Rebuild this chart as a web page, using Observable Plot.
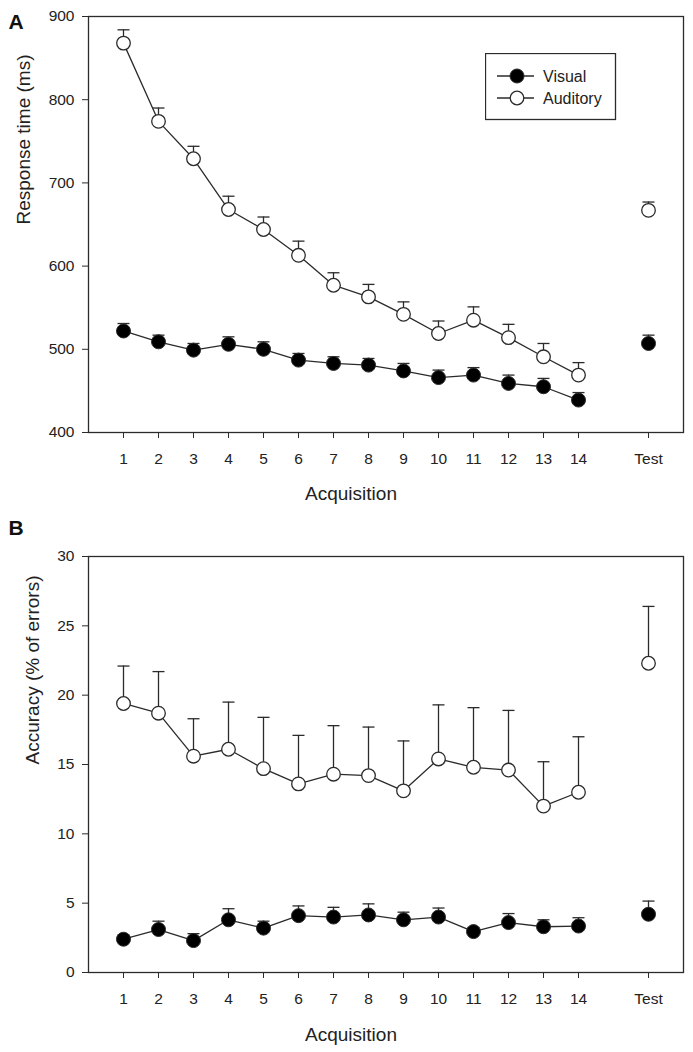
<!DOCTYPE html>
<html><head><meta charset="utf-8">
<script src="https://cdn.jsdelivr.net/npm/d3@7"></script>
<script src="https://cdn.jsdelivr.net/npm/@observablehq/plot@0.6"></script>
<style>
body{margin:0;background:#fff;font-family:"Liberation Sans",Arial,sans-serif;}
#wrap{position:relative;width:693px;height:1052px;}
#wrap > svg{display:block}
#legend{position:absolute;left:485px;top:53px;}
</style></head><body><div id="wrap"></div>
<script>
// ---- data ----
const trials = [1,2,3,4,5,6,7,8,9,10,11,12,13,14];
const sessionLabels = [...trials.map(String), "Test"];
const conditions = ["Visual", "Auditory"];

const rtVisual     = [522,509,499,506,500,487,483,481,474,466,469,459,455,439,507];
const rtVisualSE   = [9,8,8,9,9,8,8,8,9,9,9,10,10,9,10];
const rtAuditory   = [868,774,729,668,644,613,577,563,542,519,535,514,491,469,667];
const rtAuditorySE = [16,16,15,16,15,17,15,15,15,15,16,16,16,15,10];

const errVisual     = [2.4,3.1,2.3,3.8,3.2,4.1,4.0,4.15,3.8,4.0,2.95,3.6,3.3,3.35,4.2];
const errVisualSE   = [0.3,0.6,0.5,0.8,0.5,0.7,0.7,0.8,0.55,0.65,0.3,0.65,0.5,0.6,0.95];
const errAuditory   = [19.4,18.7,15.6,16.1,14.7,13.6,14.3,14.2,13.1,15.4,14.8,14.6,12.0,13.0,22.3];
const errAuditorySE = [2.7,3.0,2.7,3.4,3.7,3.5,3.5,3.5,3.6,3.9,4.3,4.3,3.2,4.0,4.1];

const rtTicks  = [400,500,600,700,800,900];
const errTicks = [0,5,10,15,20,25,30];

// ---- derived ----
const positions = [...trials, trials.length + 2]; // Test sits one empty slot after the last trial
const xDomain = [0, positions[positions.length - 1] + 1];
const ink = "#2b2b2b";
const font = "'Liberation Sans', Arial, sans-serif";

function rows(visual, visualSE, auditory, auditorySE) {
  const out = [];
  [[conditions[0], visual, visualSE], [conditions[1], auditory, auditorySE]].forEach(([c, m, s]) => {
    m.forEach((v, i) => out.push({condition: c, pos: positions[i], label: sessionLabels[i],
      mean: v, upper: v + s[i], test: sessionLabels[i] === "Test"}));
  });
  return out;
}

const capSymbol = {draw(ctx) { ctx.moveTo(-6, 0); ctx.lineTo(6, 0); }};

function panel({data, yDomain, yTicks, height, marginTop, marginBottom, yLabel, yLabelDx, letter, letterDy, xLabelDy}) {
  const acq = data.filter(d => !d.test);
  const svg = Plot.plot({
    width: 693, height, marginLeft: 88, marginRight: 10, marginTop, marginBottom,
    style: {fontFamily: font, fontSize: "15px", color: "#222", background: "white", overflow: "visible"},
    x: {domain: xDomain},
    y: {domain: yDomain},
    marks: [
      Plot.frame({stroke: ink, strokeWidth: 1.3}),
      Plot.axisX({ticks: positions, tickFormat: d => sessionLabels[positions.indexOf(d)],
        tickSize: 6, tickPadding: 14, label: null, stroke: ink, fill: "#222"}),
      Plot.axisY({ticks: yTicks, tickSize: 6, tickPadding: 8, label: null, stroke: ink, fill: "#222"}),
      Plot.line(acq, {x: "pos", y: "mean", z: "condition", stroke: ink, strokeWidth: 1.3}),
      Plot.ruleX(data, {x: "pos", y1: "mean", y2: "upper", stroke: ink, strokeWidth: 1.3}),
      Plot.dot(data, {x: "pos", y: "upper", symbol: capSymbol, stroke: ink, strokeWidth: 1.3, fill: "none"}),
      Plot.dot(data.filter(d => d.condition === conditions[1]), {x: "pos", y: "mean", r: 6.8, fill: "white", stroke: ink, strokeWidth: 1.3}),
      Plot.dot(data.filter(d => d.condition === conditions[0]), {x: "pos", y: "mean", r: 7, fill: "#000", stroke: ink, strokeWidth: 1}),
      Plot.text([yLabel], {text: d => d, frameAnchor: "left", rotate: -90, dx: yLabelDx, fontSize: 19, lineAnchor: "middle", fill: "#222"}),
      Plot.text(["Acquisition"], {text: d => d, x: () => d3.mean(trials), frameAnchor: "bottom", dy: xLabelDy, fontSize: 19, lineAnchor: "middle", fill: "#222"}),
      Plot.text([letter], {text: d => d, frameAnchor: "top-left", dx: -80, dy: letterDy, textAnchor: "start", lineAnchor: "middle", fontSize: 21, fontWeight: "bold", fill: "#111"})
    ]
  });
  // enlarge axis tick labels (all texts not produced by the text marks above)
  svg.querySelectorAll("text").forEach(t => {
    const g = t.closest("g[aria-label]");
    if (!g || g.getAttribute("aria-label") !== "text") t.style.fontSize = "15.5px";
  });
  return svg;
}

const wrap = document.getElementById("wrap");
wrap.appendChild(panel({
  data: rows(rtVisual, rtVisualSE, rtAuditory, rtAuditorySE),
  yDomain: [rtTicks[0], rtTicks[rtTicks.length - 1]], yTicks: rtTicks,
  height: 510, marginTop: 16, marginBottom: 78,
  yLabel: "Response time (ms)", yLabelDx: -65, letter: "A", letterDy: 6, xLabelDy: 61
}));
wrap.appendChild(panel({
  data: rows(errVisual, errVisualSE, errAuditory, errAuditorySE),
  yDomain: [errTicks[0], errTicks[errTicks.length - 1]], yTicks: errTicks,
  height: 542, marginTop: 46, marginBottom: 80,
  yLabel: "Accuracy (% of errors)", yLabelDx: -56, letter: "B", letterDy: -28, xLabelDy: 62
}));

// legend for panel A
const lg = document.createElement("div");
lg.id = "legend";
lg.innerHTML = `<svg width="132" height="68" xmlns="http://www.w3.org/2000/svg" style="font-family:${font}">
  <rect x="0.5" y="0.5" width="130" height="66" fill="white" stroke="${ink}" stroke-width="1.3"/>
  <line x1="12" x2="49" y1="23" y2="23" stroke="${ink}" stroke-width="1.3"/>
  <circle cx="32" cy="23" r="7" fill="#000" stroke="${ink}"/>
  <text x="58" y="28.5" font-size="16" fill="#222">${conditions[0]}</text>
  <line x1="12" x2="49" y1="45" y2="45" stroke="${ink}" stroke-width="1.3"/>
  <circle cx="32" cy="45" r="6.8" fill="white" stroke="${ink}" stroke-width="1.3"/>
  <text x="58" y="50.5" font-size="16" fill="#222">${conditions[1]}</text>
</svg>`;
wrap.appendChild(lg);
</script>
</body></html>
